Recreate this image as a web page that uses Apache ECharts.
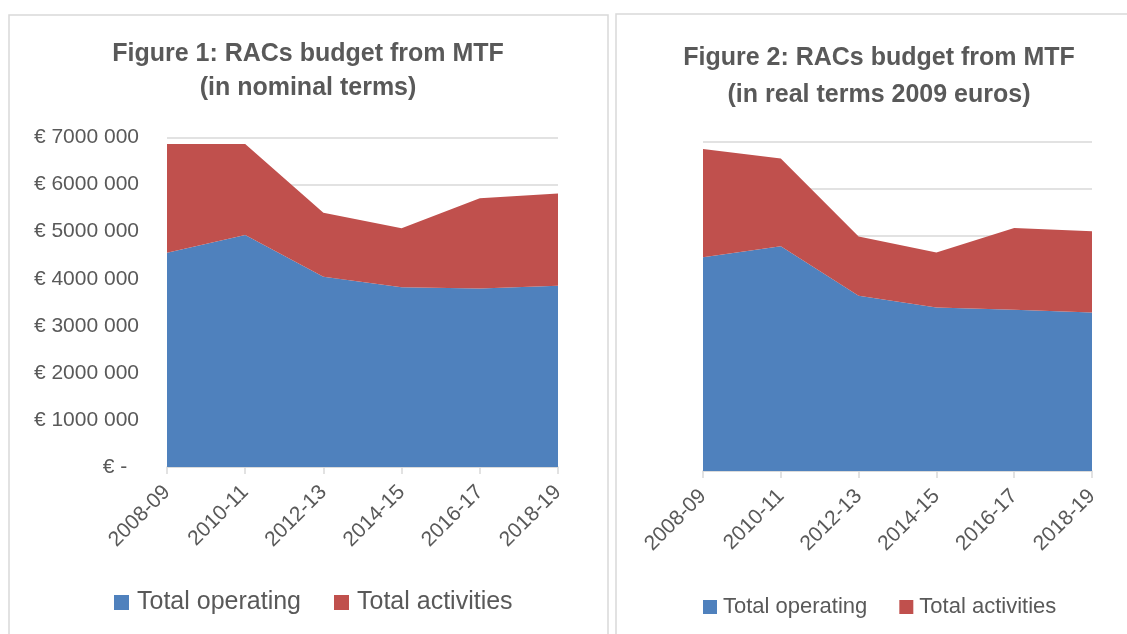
<!DOCTYPE html>
<html>
<head>
<meta charset="utf-8">
<script src="https://cdn.jsdelivr.net/npm/echarts@6/dist/echarts.min.js"></script>
<style>
html,body{margin:0;padding:0;background:#fff;}
#chart{width:1127px;height:634px;}
</style>
</head>
<body>
<div id="chart"></div>
<script>
const categories = ['2008-09','2010-11','2012-13','2014-15','2016-17','2018-19'];
const nominalOperating  = [4550000, 4930000, 4040000, 3820000, 3790000, 3850000];
const nominalActivities = [2310000, 1930000, 1360000, 1250000, 1920000, 1960000];
const realOperating     = [4550000, 4780000, 3730000, 3480000, 3430000, 3370000];
const realActivities    = [2300000, 1870000, 1260000, 1170000, 1740000, 1730000];
const yTickLabels = ['€ -  ', '€ 1000 000', '€ 2000 000', '€ 3000 000', '€ 4000 000', '€ 5000 000', '€ 6000 000', '€ 7000 000'];
const seriesNames = ['Total operating', 'Total activities'];
const titles = [
  'Figure 1: RACs budget from MTF\n(in nominal terms)',
  'Figure 2: RACs budget from MTF\n(in real terms 2009 euros)'
];

const BLUE = '#4F81BD', RED = '#C0504D', TXT = '#595959', GRID = '#D9D9D9';
const FONT = 'Liberation Sans';

function xAxis(idx){
  return {
    gridIndex: idx, type: 'category', data: categories, boundaryGap: false,
    axisLine: {lineStyle: {color: GRID, width: 1.5}},
    axisTick: {lineStyle: {color: GRID, width: 1.5}, length: 7},
    axisLabel: {rotate: 45, color: TXT, fontFamily: FONT, fontSize: 21, margin: 22, interval: 0}
  };
}
function yAxis(idx, show){
  return {
    gridIndex: idx, type: 'value', min: 0, max: 7000000, interval: 1000000,
    axisLine: {show: false}, axisTick: {show: false},
    splitLine: {lineStyle: {color: GRID, width: 1.5}},
    axisLabel: {show: show, color: TXT, fontFamily: FONT, fontSize: 21, margin: 28,
      formatter: v => yTickLabels[Math.round(v / 1000000)]}
  };
}
function area(name, data, color, idx, stack){
  return {
    name, type: 'line', data, xAxisIndex: idx, yAxisIndex: idx, stack,
    showSymbol: false, symbol: 'none', lineStyle: {width: 0}, itemStyle: {color},
    areaStyle: {color, opacity: 1}, silent: true, animation: false
  };
}

const chart = echarts.init(document.getElementById('chart'), null, {renderer: 'canvas'});
chart.setOption({
  animation: false,
  backgroundColor: '#fff',
  graphic: [
    {type: 'rect', shape: {x: 9, y: 15, width: 599, height: 640}, style: {fill: 'none', stroke: GRID, lineWidth: 1.5}, z: -10},
    {type: 'rect', shape: {x: 616, y: 14, width: 540, height: 640}, style: {fill: 'none', stroke: GRID, lineWidth: 1.5}, z: -10}
  ],
  title: [
    {text: titles[0], left: 308, top: 37, textAlign: 'center', padding: 0,
     textStyle: {color: TXT, fontFamily: FONT, fontWeight: 'bold', fontSize: 25, lineHeight: 34}},
    {text: titles[1], left: 879, top: 40, textAlign: 'center', padding: 0,
     textStyle: {color: TXT, fontFamily: FONT, fontWeight: 'bold', fontSize: 25, lineHeight: 37}}
  ],
  legend: [
    {data: seriesNames, left: 114, top: 590, itemWidth: 15, itemHeight: 15, itemGap: 33, icon: 'rect', padding: 0,
     textStyle: {color: TXT, fontFamily: FONT, fontSize: 25, padding: [0,0,0,3]}},
    {data: seriesNames, left: 703, top: 596, itemWidth: 14, itemHeight: 14, itemGap: 32, icon: 'rect', padding: 0,
     textStyle: {color: TXT, fontFamily: FONT, fontSize: 22, padding: [0,0,0,1]}}
  ],
  grid: [
    {left: 167, right: 569, top: 137.5, bottom: 167},
    {left: 703, right: 35, top: 142, bottom: 163}
  ],
  xAxis: [xAxis(0), xAxis(1)],
  yAxis: [yAxis(0, true), yAxis(1, false)],
  series: [
    area(seriesNames[0], nominalOperating, BLUE, 0, 'n'),
    area(seriesNames[1], nominalActivities, RED, 0, 'n'),
    area(seriesNames[0], realOperating, BLUE, 1, 'r'),
    area(seriesNames[1], realActivities, RED, 1, 'r')
  ]
});
</script>
</body>
</html>
